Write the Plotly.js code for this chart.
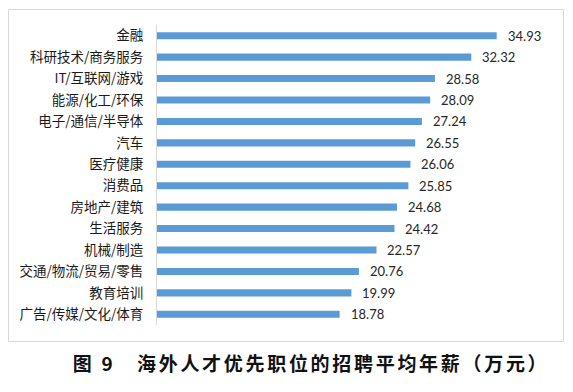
<!DOCTYPE html>
<html>
<head>
<meta charset="utf-8">
<script src="https://cdn.plot.ly/plotly-3.0.1.min.js"></script>
<style>
html,body{margin:0;padding:0;background:#fff;}
#chart{width:573px;height:392px;}
#chart .gtitle{letter-spacing:2.7px;}
</style>
</head>
<body>
<div id="chart"></div>
<script>
const categories = ["金融","科研技术/商务服务","IT/互联网/游戏","能源/化工/环保","电子/通信/半导体","汽车","医疗健康","消费品","房地产/建筑","生活服务","机械/制造","交通/物流/贸易/零售","教育培训","广告/传媒/文化/体育"];
const salaries = [34.93,32.32,28.58,28.09,27.24,26.55,26.06,25.85,24.68,24.42,22.57,20.76,19.99,18.78];
const captionText = "图 9　海外人才优先职位的招聘平均年薪（万元）";

const labelAnns = categories.map((c, i) => ({
  x: salaries[i], y: c, xref: 'x', yref: 'y',
  text: salaries[i].toFixed(2), showarrow: false,
  xanchor: 'left', yanchor: 'middle', xshift: 9,
  font: {family: 'Lato, "Open Sans", sans-serif', size: 13, color: '#262626'}
}));

const data = [{
  type: 'bar', orientation: 'h',
  x: salaries, y: categories,
  marker: {color: '#5b9bd5'},
  hoverinfo: 'none'
}];

const layout = {
  width: 573, height: 392,
  margin: {l: 157, r: 27, t: 25, b: 67},
  paper_bgcolor: '#ffffff', plot_bgcolor: '#ffffff',
  bargap: 0.67,
  showlegend: false,
  title: {
    text: '<b>' + captionText + '</b>',
    xref: 'container', yref: 'container',
    x: 311/573, y: 1 - 364/392,
    xanchor: 'center', yanchor: 'middle',
    font: {family: '"Noto Sans CJK SC", sans-serif', size: 19, color: '#111111'}
  },
  xaxis: {range: [0, 40], visible: false, fixedrange: true},
  yaxis: {
    autorange: 'reversed', type: 'category',
    showline: true, linecolor: '#d9d9d9', linewidth: 1,
    showgrid: false, zeroline: false, ticks: '',
    ticklabelstandoff: 10,
    tickfont: {family: '"Noto Sans CJK SC", sans-serif', size: 13.5, color: '#1a1a1a'}
  },
  shapes: [{
    type: 'rect', xref: 'paper', yref: 'paper',
    x0: (8.5-157)/389, x1: (563.5-157)/389,
    y0: -(341.5-325)/300, y1: 1 + (25-9.5)/300,
    line: {color: '#d9d9d9', width: 1}, fillcolor: 'rgba(0,0,0,0)'
  }],
  annotations: labelAnns
};

Plotly.newPlot('chart', data, layout, {displayModeBar: false, staticPlot: true});
</script>
</body>
</html>
